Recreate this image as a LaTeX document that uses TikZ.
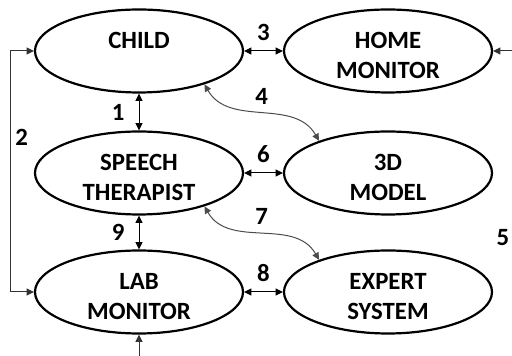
\documentclass[tikz,border=0pt]{standalone}
\usepackage{fontspec}
\setmainfont{Carlito}
\usetikzlibrary{shapes.geometric,arrows.meta}

\def\colL{139}
\def\colR{388}

\begin{document}
\begin{tikzpicture}[x=0.5pt, y=-0.5pt, >={Triangle[length=3.6pt,width=3.4pt]},
    block/.style={ellipse, draw, line width=1.1pt, minimum width=104pt,
      minimum height=41.5pt, inner sep=0pt, align=center,
      text height=28pt, text depth=0pt,
      font=\bfseries\fontsize{12.4}{15}\selectfont},
    oneline/.style={text height=8pt, text depth=10pt},
    link/.style={<->, line width=0.5pt},
    feed/.style={->, line width=0.5pt, draw=black!80},
    curvelink/.style={<->, line width=0.5pt, draw=black!70},
    num/.style={font=\bfseries\fontsize{12.4}{15}\selectfont, inner sep=2pt}]
        \useasboundingbox (0,0) rectangle (512,356);
        \node[block, oneline] (child) at (\colL,51) {CHILD};
        \node[block] (home)   at (\colR,51)  {HOME\\MONITOR};
        \node[block] (speech) at (\colL,173) {SPEECH\\THERAPIST};
        \node[block] (model)  at (\colR,173) {3D\\MODEL};
        \node[block] (lab)    at (\colL,292) {LAB\\MONITOR};
        \node[block] (expert) at (\colR,292) {EXPERT\\SYSTEM};
        \coordinate (rin) at (512,51);
        \coordinate (bin) at (\colL,356);
        \draw[link] (child) -- node[num, left=5pt] {1} (speech);
        \draw[link] (speech) -- node[num, left=5pt] {9} (lab);
        \draw[link] (child) -- node[num, above=3pt] {3} (home);
        \draw[link] (speech) -- node[num, above=3pt] {6} (model);
        \draw[link] (lab) -- node[num, above=3pt] {8} (expert);
        \draw[feed, <->] (child.west) -- ++(-23,0) |- node[num, pos=0.18, right] {2} (lab.west);
        \draw[curvelink] (child.-27) to[out=-60, in=120] node[num, above=2pt] {4} (model.155);
        \draw[curvelink] (speech.-27) to[out=-60, in=120] node[num, above=2pt] {7} (expert.155);
        \draw[feed] (rin) -- (home);
        \draw[feed] (bin) -- (lab);
        \node[num] (five) at (503,238) {5};
      \end{tikzpicture}
\end{document}
